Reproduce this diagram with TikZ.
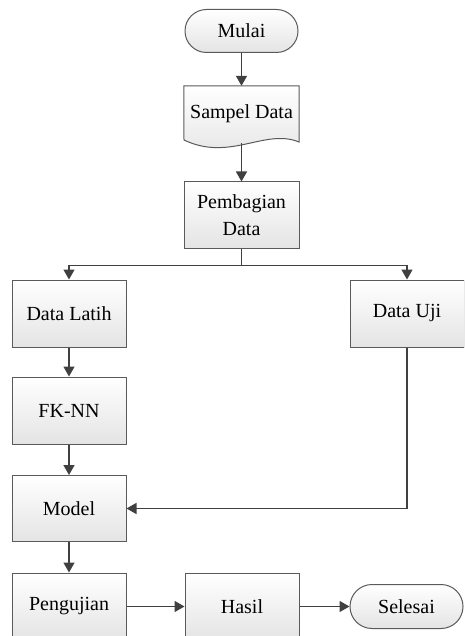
\documentclass[tikz,border=0pt]{standalone}
\usepackage{fontspec}
\setmainfont{Liberation Serif}
\usetikzlibrary{shapes.misc,arrows.meta,backgrounds}
\definecolor{edgecol}{HTML}{404040}
\definecolor{boxline}{HTML}{5A5A5A}
\definecolor{boxbot}{HTML}{E4E4E4}
\tikzset{
  boxfill/.style={top color=white,bottom color=boxbot,draw=boxline,line width=1pt},
  procbox/.style={boxfill,rectangle,minimum width=114pt,minimum height=66pt,inner sep=0pt,align=center,font=\fontsize{20}{27}\selectfont},
  termbox/.style={boxfill,rounded rectangle,minimum width=113pt,minimum height=43pt,inner sep=0pt,font=\fontsize{20}{24}\selectfont},
  arr/.style={draw=edgecol,line width=1.5pt,-{Triangle[length=10pt,width=11pt]}},
}
\begin{document}
\begin{tikzpicture}[x=1pt,y=-1pt]
\useasboundingbox (0,0) rectangle (464,636);
\clip (0,0) rectangle (464,636);
\node[termbox] (mulai) at (241.5,31) {Mulai};
\node[minimum width=115pt,minimum height=57pt,inner sep=0pt,font=\fontsize{20}{24}\selectfont] (sampel) at (241.5,114.5) {\raisebox{6pt}{Sampel Data}};
\begin{scope}[on background layer]
\path[boxfill] (sampel.north west) -- (sampel.north east) -- (299,142)
  .. controls (265,128) and (230,162) .. (184,140) -- cycle;
\end{scope}
\node[procbox,minimum width=115pt] (bagi) at (241.5,215) {Pembagian\\Data};
\node[procbox,minimum height=67pt] (latih) at (69,313.5) {Data Latih};
\node[procbox,minimum height=67pt] (uji) at (407,313.5) {Data Uji};
\node[procbox,minimum height=67pt] (fknn) at (69,410.5) {FK-NN};
\node[procbox,minimum height=66pt] (model) at (69,508.5) {Model};
\node[procbox,minimum height=67pt] (uji2) at (69,606.5) {Pengujian};
\node[procbox,minimum height=67pt] (hasil) at (242,606.5) {Hasil};
\node[termbox,minimum height=44pt] (selesai) at (406.5,606.5) {Selesai};
\draw[arr] (mulai.south) -- (sampel.north);
\draw[arr] (sampel.south) -- (bagi.north);
\draw[arr] (bagi.south) -- ++(0,17) -| (latih.north);
\draw[arr] (bagi.south) -- ++(0,17) -| (uji.north);
\draw[arr] (latih.south) -- (fknn.north);
\draw[arr] (fknn.south) -- (model.north);
\draw[arr] (uji.south) |- (model.east);
\draw[arr] (model.south) -- (uji2.north);
\draw[arr] (uji2.east) -- (hasil.west);
\draw[arr] (hasil.east) -- (selesai.west);
\end{tikzpicture}
\end{document}
